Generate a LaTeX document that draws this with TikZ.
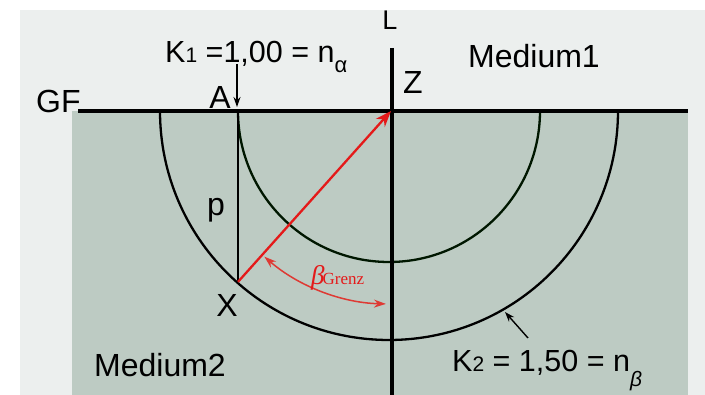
\documentclass[tikz,border=0pt]{standalone}
\usepackage{fontspec}
\setmainfont{Liberation Sans}
\newfontfamily\serifgr{Liberation Serif}
\usetikzlibrary{arrows.meta,calc}
\definecolor{bglight}{RGB}{236,239,238}
\definecolor{bggreen}{RGB}{189,203,195}
\definecolor{redline}{RGB}{228,26,26}
\definecolor{redarc}{RGB}{222,58,52}
\tikzset{
  lbl/.style={inner sep=0pt, font=\fontsize{32}{36}\selectfont},
  klbl/.style={inner sep=0pt, font=\fontsize{30.5}{34}\selectfont},
  thickline/.style={line width=3.2pt},
  circline/.style={line width=2.3pt},
  smallarrow/.style={line width=1.4pt, -{Stealth[length=10pt,width=7pt]}},
}
\begin{document}
\begin{tikzpicture}[x=1pt,y=1pt]
\useasboundingbox (0,0) rectangle (705,395);
\fill[white] (0,0) rectangle (705,395);
\fill[bglight] (20,0) rectangle (705,385);
\fill[bggreen] (72,0) rectangle (688,284);
% key points
\coordinate (Z) at (391,284);
\coordinate (A) at (238,284);
\coordinate (X) at (238,113.1);
\coordinate (GFl) at (78,284);
\coordinate (GFr) at (688,284);
\coordinate (Ltop) at (392,347);
\coordinate (Lbot) at (392,0);
% circles
\draw[circline, black!85!green!60!black] (238,284) arc[start angle=180, end angle=360, radius=151];
\draw[circline, black] (160,284) arc[start angle=180, end angle=360, radius=229];
% lines
\draw[thickline] (GFl) -- (GFr);
\draw[thickline] (Ltop) -- (Lbot);
\draw[circline] (A) -- (X);
% red ray
\draw[line width=2.3pt, redline, -{Stealth[length=16pt,width=12pt]}] (X) -- (Z);
% angle arc
\draw[line width=1.5pt, redarc, {Stealth[length=12pt,width=8pt]}-{Stealth[length=12pt,width=8pt]}]
  ($(Z)+(229:193)$) arc[start angle=229, end angle=268.5, radius=193];
% small arrows
\coordinate (Aa) at (237,331);
\coordinate (Ab) at (237,288);
\draw[smallarrow] (Aa) -- (Ab);
\coordinate (Ka) at (528,57);
\coordinate (Kb) at (505,83);
\draw[smallarrow] (Ka) -- (Kb);
% labels
\node[inner sep=0pt, font=\fontsize{27}{30}\selectfont, anchor=base] (Llab) at (390,365) {L};
\node[klbl, anchor=base west] (K1lab) at (165,332) {K{\fontsize{21}{21}\selectfont 1} =1,00 = n\raisebox{-10pt}{\fontsize{22}{22}\selectfont α}};
\node[lbl, anchor=base] (Alab) at (220,286) {A};
\node[lbl, anchor=base west] (Zlab) at (403,301) {Z};
\node[lbl, anchor=base west] (M1lab) at (468,327) {Medium1};
\node[lbl, anchor=base west] (GFlab) at (36,282) {GF};
\node[lbl, anchor=base] (plab) at (216,179) {p};
\node[lbl, anchor=base] (Xlab) at (227,78) {X};
\node[lbl, anchor=base west] (M2lab) at (94,18) {Medium2};
\node[klbl, anchor=base west] (K2lab) at (452,23) {K{\fontsize{21}{21}\selectfont 2} = 1,50 = n\raisebox{-15pt}{\fontsize{21}{21}\selectfont\itshape β}};
\node[inner sep=0pt, anchor=base west, text=redline] (blab) at (311,110)
  {\serifgr\itshape\fontsize{27}{27}\selectfont β\hspace{-2pt}{\upshape\fontsize{17}{17}\selectfont Grenz}};
\end{tikzpicture}
\end{document}
